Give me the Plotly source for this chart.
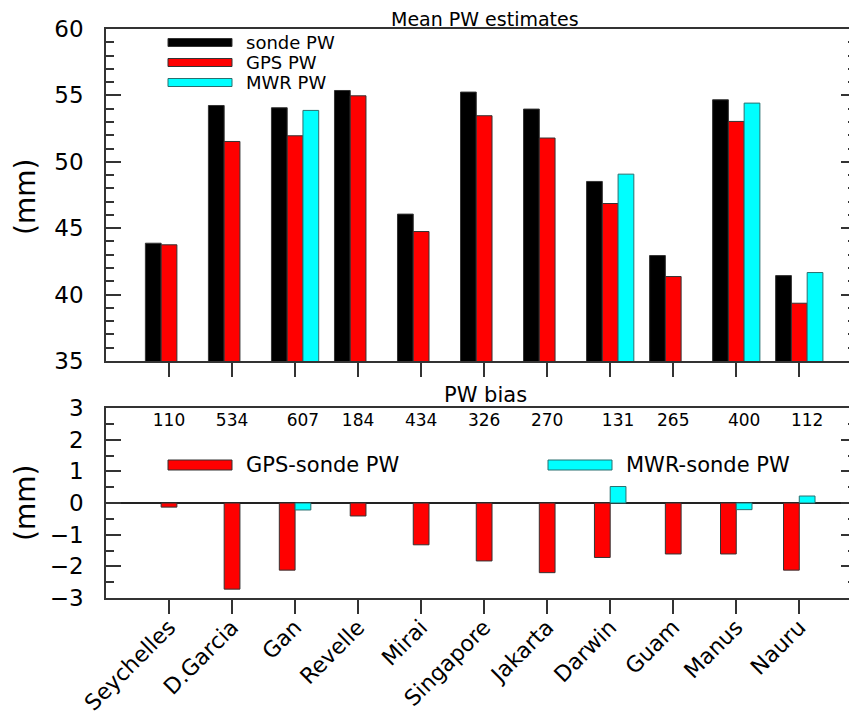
import plotly.graph_objects as go
from plotly.subplots import make_subplots

stations = ["Seychelles", "D.Garcia", "Gan", "Revelle", "Mirai", "Singapore",
            "Jakarta", "Darwin", "Guam", "Manus", "Nauru"]
sonde_pw = [43.87, 54.24, 54.07, 55.37, 46.06, 55.25, 53.97, 48.52, 42.94, 54.67, 41.43]
gps_pw = [43.75, 51.53, 51.96, 54.97, 44.75, 53.47, 51.79, 46.86, 41.36, 53.04, 39.35]
mwr_pw = [None, None, 53.87, None, None, None, None, 49.07, None, 54.42, 41.66]
gps_bias = [-0.13, -2.72, -2.12, -0.41, -1.32, -1.83, -2.20, -1.72, -1.61, -1.61, -2.12]
mwr_bias = [None, None, -0.22, None, None, None, None, 0.52, None, -0.21, 0.22]
counts = ["110", "534", "607", "184", "434", "326", "270", "131", "265", "400", "112"]

FONT = "DejaVu Sans"
OFF = 8  # default page body margin
W, H = 857 - OFF, 724 - OFF
L, R, T, B = 106 - OFF, 1, 29 - OFF, H - (598 - OFF)
PW_ = W - L - R
PH_ = H - T - B


def px(x):
    return (x - OFF - L) / PW_


def py(y):
    return (H - B - (y - OFF)) / PH_


idx = list(range(len(stations)))
has_mwr = [v is not None for v in mwr_bias]

fig = make_subplots(rows=2, cols=1, shared_xaxes=False, vertical_spacing=0.0)

line_col = "#333333"
# top panel
fig.add_trace(go.Bar(x=idx, y=sonde_pw, name="sonde PW", marker=dict(color="black", line=dict(color=line_col, width=1))), row=1, col=1)
fig.add_trace(go.Bar(x=idx, y=gps_pw, name="GPS PW", marker=dict(color="#ff0000", line=dict(color=line_col, width=1))), row=1, col=1)
fig.add_trace(go.Bar(x=idx, y=mwr_pw, name="MWR PW", marker=dict(color="#00ffff", line=dict(color="#2a6f6f", width=1))), row=1, col=1)

# bottom panel
gps_off = [-0.25 if h else -0.125 for h in has_mwr]
fig.add_trace(go.Bar(x=idx, y=gps_bias, width=0.25, offset=gps_off, name="GPS-sonde PW",
                     marker=dict(color="#ff0000", line=dict(color=line_col, width=1))), row=2, col=1)
fig.add_trace(go.Bar(x=idx, y=mwr_bias, width=0.25, offset=[0.0] * len(idx), name="MWR-sonde PW",
                     marker=dict(color="#00ffff", line=dict(color="#2a6f6f", width=1))), row=2, col=1)
count_x = [i + (0.125 if h else 0.0) for i, h in zip(idx, has_mwr)]
fig.add_trace(go.Scatter(x=count_x, y=[2.57] * len(idx), mode="text", text=counts,
                         textfont=dict(family=FONT, size=17, color="black"), hoverinfo="skip"), row=2, col=1)

fig.update_layout(
    width=W, height=H, margin=dict(l=L, r=R, t=T, b=B, autoexpand=False),
    paper_bgcolor="white", plot_bgcolor="white",
    barmode="group", bargap=0.25, bargroupgap=0.0,
    showlegend=False,
    font=dict(family=FONT, size=23, color="black"),
)

fig.update_layout(
    yaxis=dict(domain=[py(361), 1.0]),
    yaxis2=dict(domain=[0.0, py(408)]),
)

common_x = dict(range=[-1, 10.9], tickmode="array", tickvals=idx, ticks="outside", ticklen=14,
                tickwidth=1.5, tickcolor="#333", showline=True, linecolor="#333", linewidth=1.5,
                mirror=True, showgrid=False, zeroline=False, automargin=False)
fig.update_xaxes(**common_x, showticklabels=False, row=1, col=1)
fig.update_xaxes(**common_x, ticktext=stations, tickangle=-45, tickfont=dict(size=22),
                 ticklabelstandoff=-8, row=2, col=1)

common_y = dict(ticks="inside", ticklen=15, tickwidth=1.5, tickcolor="#333", showline=True,
                linecolor="#333", linewidth=1.5, mirror="ticks", showgrid=False,
                ticklabelstandoff=16, automargin=False)
fig.update_yaxes(**common_y, range=[35, 60], dtick=5, tick0=35, zeroline=False,
                 minor=dict(ticks="inside", ticklen=8, dtick=1, tickcolor="#333", tickwidth=1.5, showgrid=False),
                 row=1, col=1)
fig.update_yaxes(**common_y, range=[-3, 3], dtick=1, tick0=-3, zeroline=True, zerolinecolor="#222",
                 zerolinewidth=1.5,
                 minor=dict(ticks="inside", ticklen=8, dtick=0.5, tickcolor="#333", tickwidth=1.5, showgrid=False),
                 row=2, col=1)

annotations = [
    dict(text="Mean PW estimates", x=px(485), y=py(30.5), yanchor="bottom", font=dict(size=19)),
    dict(text="PW bias", x=px(485), y=py(408), yanchor="bottom", font=dict(size=21)),
    dict(text="(mm)", x=px(25), y=py(197), yanchor="middle", textangle=-90, font=dict(size=28)),
    dict(text="(mm)", x=px(25), y=py(503), yanchor="middle", textangle=-90, font=dict(size=28)),
]
for a in annotations:
    a.update(xref="paper", yref="paper", showarrow=False, xanchor="center", borderpad=0)

shapes = []
legend_items = [
    ("sonde PW", "black", "#333333", 168, 232, 42.5, 8, 18),
    ("GPS PW", "#ff0000", "#333333", 168, 232, 62.5, 8, 18),
    ("MWR PW", "#00ffff", "#2a6f6f", 168, 232, 82.5, 8, 18),
    ("GPS-sonde PW", "#ff0000", "#333333", 168, 232, 465, 10, 21),
    ("MWR-sonde PW", "#00ffff", "#2a6f6f", 548, 612, 465, 10, 21),
]
for label, col, lc, x0, x1, yc, h, fs in legend_items:
    shapes.append(dict(type="rect", xref="paper", yref="paper", x0=px(x0), x1=px(x1),
                       y0=py(yc + h / 2), y1=py(yc - h / 2), fillcolor=col,
                       line=dict(color=lc, width=1)))
    annotations.append(dict(text=label, x=px(x1 + 12), y=py(yc), xref="paper", yref="paper",
                            showarrow=False, xanchor="left", yanchor="middle",
                            font=dict(size=fs)))

fig.update_layout(annotations=annotations, shapes=shapes)

fig.write_html("out.html")
